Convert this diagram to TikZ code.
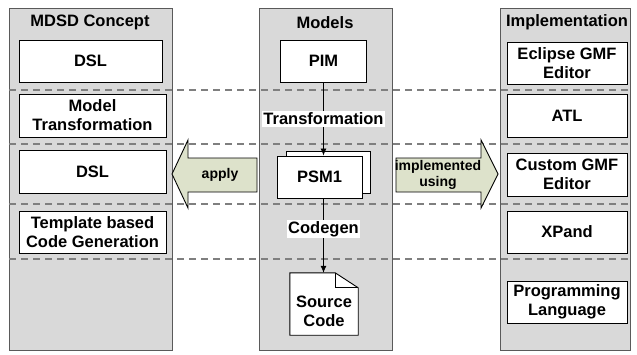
\documentclass[tikz,border=0pt]{standalone}
\usepackage{fontspec}
\setmainfont{Liberation Sans}
\usetikzlibrary{arrows.meta}
\definecolor{panelfill}{HTML}{D9D9D9}
\definecolor{panelborder}{HTML}{5A5A5A}
\definecolor{dashgray}{HTML}{7F7F7F}
\definecolor{arrowfill}{HTML}{DDE2CB}
\newcommand{\boxfont}{\fontsize{16.5}{19}\selectfont\bfseries}
\newcommand{\arrfont}{\fontsize{14}{16}\selectfont\bfseries}
\tikzset{
  panel/.style={draw=panelborder, fill=panelfill, line width=1.2pt, anchor=north west, inner sep=0pt},
  box/.style={draw=black, fill=white, line width=0.9pt, inner sep=0pt, align=center, font=\boxfont},
  ttl/.style={font=\boxfont, inner sep=0pt},
  sepline/.style={draw=dashgray, line width=1.2pt, dash pattern=on 7pt off 5pt},
  blockarrow/.style={draw=black, fill=arrowfill, line width=0.9pt, line join=miter},
  lbl/.style={fill=white, inner sep=1.5pt, font=\boxfont},
  flow/.style={-{Latex[length=7pt,width=6pt]}, line width=0.8pt},
  arrtext/.style={font=\arrfont, align=center, inner sep=0pt}
}
\begin{document}
\begin{tikzpicture}[x=1pt,y=-1pt]
\useasboundingbox (0,0) rectangle (637,354);
% panels
\node[panel, minimum width=163pt, minimum height=342pt] (lp) at (9,8) {};
\node[panel, minimum width=133pt, minimum height=342pt] (mp) at (259,8) {};
\node[panel, minimum width=130pt, minimum height=342pt] (rp) at (500,8) {};
% separators
\coordinate (s1a) at (9,90);  \coordinate (s1b) at (630,90);
\coordinate (s2a) at (9,144); \coordinate (s2b) at (630,144);
\coordinate (s3a) at (9,204); \coordinate (s3b) at (630,204);
\coordinate (s4a) at (9,259); \coordinate (s4b) at (630,259);
\draw[sepline] (s1a) -- (s1b);
\draw[sepline] (s2a) -- (s2b);
\draw[sepline] (s3a) -- (s3b);
\draw[sepline] (s4a) -- (s4b);
% titles
\node[ttl] (t1) at (90,22.5) {MDSD Concept};
\node[ttl] (t2) at (325,22.5) {Models};
\node[ttl] (t3) at (567,22.5) {Implementation};
% left column
\node[box, minimum width=143pt, minimum height=42pt] (c1) at (90.5,61) {DSL};
\node[box, minimum width=147pt, minimum height=43pt] (c2) at (92.5,115.5) {Model\\Transformation};
\node[box, minimum width=147pt, minimum height=43pt] (c3) at (92.5,171.5) {DSL};
\node[box, minimum width=147pt, minimum height=42pt] (c4) at (92.5,232) {Template based\\Code Generation};
% middle column
\node[box, minimum width=86pt, minimum height=42pt] (pim) at (323.5,61) {PIM};
\node[box, minimum width=84pt, minimum height=42pt] (psmb) at (328,172) {};
\node[box, minimum width=85pt, minimum height=42pt] (psmf) at (319.5,177) {PSM1};
\node[inner sep=0pt, minimum width=68pt, minimum height=62pt] (doc) at (324,304) {};
\draw[fill=white, line width=0.9pt] (doc.north west) -- ([xshift=-23pt]doc.north east)
  -- ([yshift=-15pt]doc.north east) -- (doc.south east) -- (doc.south west) -- cycle;
\draw[line width=0.9pt] ([xshift=-23pt]doc.north east) -- ([xshift=-23pt,yshift=-15pt]doc.north east)
  -- ([yshift=-15pt]doc.north east);
\node[arrtext, font=\boxfont] (doctxt) at (324,311.5) {Source\\Code};
\draw[flow] (pim.south) -- (pim.south |- psmf.north) node[lbl, midway] (trl) {Transformation};
\draw[flow] (psmf.south -| pim.south) -- (doc.north -| pim.south) node[lbl, pos=0.41] (cgl) {Codegen};
% right column
\node[box, minimum width=120pt, minimum height=42pt] (r1) at (567,63) {Eclipse GMF\\Editor};
\node[box, minimum width=120pt, minimum height=43pt] (r2) at (567,115.5) {ATL};
\node[box, minimum width=120pt, minimum height=43pt] (r3) at (567,174.5) {Custom GMF\\Editor};
\node[box, minimum width=120pt, minimum height=42pt] (r4) at (567,232) {XPand};
\node[box, minimum width=120pt, minimum height=42pt] (r5) at (567,302) {Programming\\Language};
% block arrows
\draw[blockarrow] (257,158) -- (188,158) -- (188,140) -- (172,174) -- (188,208) -- (188,192) -- (257,192) -- cycle;
\node[arrtext] (apply) at (220,175) {apply};
\draw[blockarrow] (396,158) -- (481,158) -- (481,140) -- (498,174) -- (481,208) -- (481,192) -- (396,192) -- cycle;
\node[arrtext] (impl) at (438,174.5) {implemented\\using};
\end{tikzpicture}
\end{document}
